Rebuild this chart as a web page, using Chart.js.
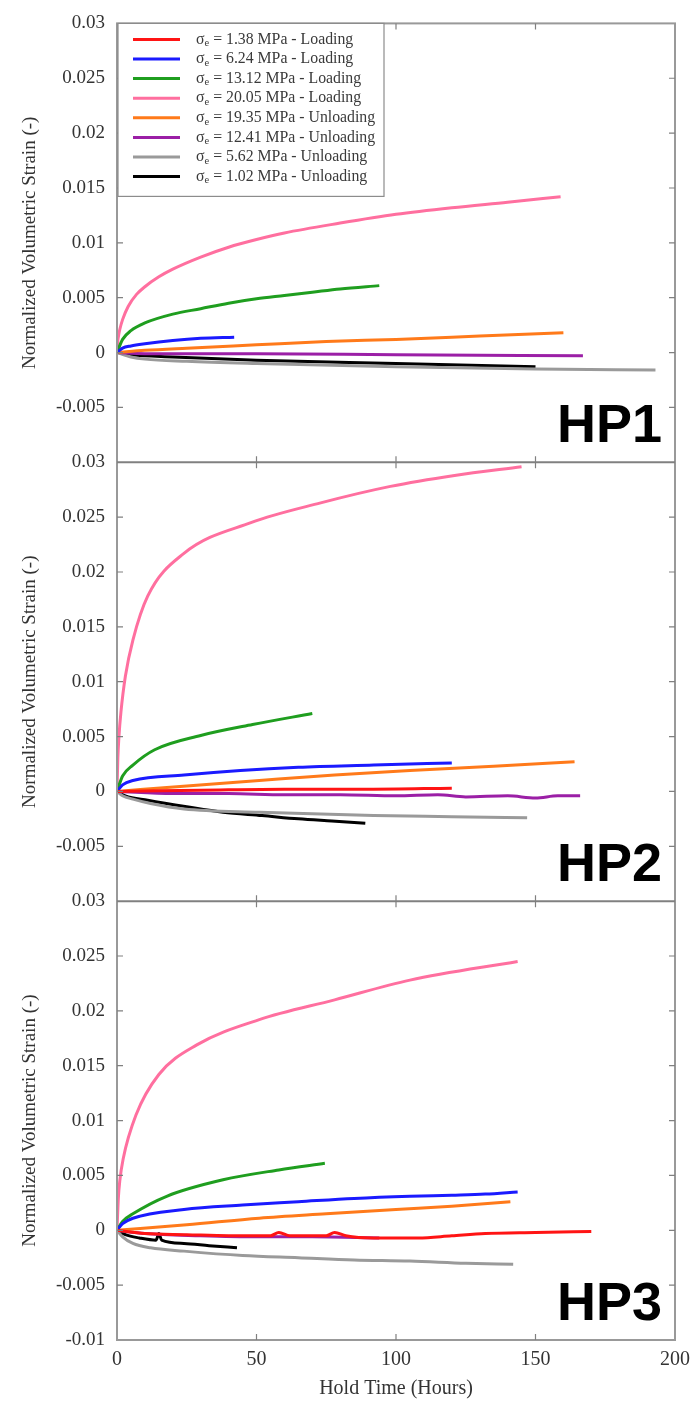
<!DOCTYPE html>
<html>
<head>
<meta charset="utf-8">
<title>Normalized volumetric strain vs hold time</title>
<script src="https://cdn.jsdelivr.net/npm/chart.js@4.4.0/dist/chart.umd.min.js"></script>
<style>
  html, body { margin: 0; padding: 0; background: #fff; }
  #wrap { position: relative; width: 698px; height: 1403px; }
</style>
</head>
<body>
<div id="wrap"><canvas id="strainChart"></canvas></div>
<script>
// ----------------------------
// 1. Data
// ----------------------------
const panelNames = ['HP1', 'HP2', 'HP3'];
const stressLevels = ['1.38', '6.24', '13.12', '20.05', '19.35', '12.41', '5.62', '1.02'];
const stages = ['Loading', 'Loading', 'Loading', 'Loading', 'Unloading', 'Unloading', 'Unloading', 'Unloading'];
const lineColors = ['#ff1414', '#1a1aff', '#1f9e1f', '#ff6f9f', '#ff7a1a', '#9b1fa6', '#9a9a9a', '#000000'];
const xTicks = [0, 50, 100, 150, 200];
const yTicks = [-0.01, -0.005, 0, 0.005, 0.01, 0.015, 0.02, 0.025, 0.03];

// HP1
const hp1RedT = [];
const hp1RedV = [];
const hp1BlueT = [0, 2, 5, 10, 20, 30, 42];
const hp1BlueV = [0, 0.0004, 0.0006, 0.0008, 0.0011, 0.0013, 0.0014];
const hp1GreenT = [0, 2, 5, 10, 20, 30, 40, 50, 60, 70, 80, 94];
const hp1GreenV = [0, 0.0012, 0.002, 0.0027, 0.0035, 0.004, 0.0045, 0.0049, 0.0052, 0.0055, 0.0058, 0.0061];
const hp1PinkT = [0, 0.3, 0.6, 1, 2, 4, 7, 10, 15, 20, 30, 40, 50, 60, 80, 100, 120, 140, 159];
const hp1PinkV = [0, 0.0011, 0.0016, 0.0021, 0.003, 0.0042, 0.0053, 0.006, 0.0069, 0.0076, 0.0087, 0.0096, 0.0103, 0.0109, 0.0118, 0.0126, 0.0132, 0.0137, 0.0142];
const hp1OrangeT = [0, 10, 25, 50, 75, 100, 130, 160];
const hp1OrangeV = [0, 0.0002, 0.0004, 0.0007, 0.001, 0.0012, 0.0015, 0.0018];
const hp1PurpleT = [0, 10, 50, 100, 167];
const hp1PurpleV = [0, -0.0001, -0.0001, -0.0002, -0.0003];
const hp1GrayT = [0, 5, 10, 25, 50, 100, 150, 193];
const hp1GrayV = [0, -0.0004, -0.0006, -0.0008, -0.001, -0.0013, -0.0015, -0.0016];
const hp1BlackT = [0, 5, 20, 50, 100, 150];
const hp1BlackV = [0, -0.0002, -0.0004, -0.0007, -0.001, -0.0013];

// HP2
const hp2RedT = [0, 30, 60, 90, 120];
const hp2RedV = [0, 0.0001, 0.0002, 0.0002, 0.0003];
const hp2BlueT = [0, 2, 5.7, 24, 65, 92, 120];
const hp2BlueV = [0, 0.0006, 0.001, 0.0015, 0.0022, 0.0024, 0.0026];
const hp2GreenT = [0, 2, 5.7, 13.5, 30, 48.6, 70];
const hp2GreenV = [0, 0.0014, 0.0024, 0.0038, 0.0051, 0.0061, 0.0071];
const hp2PinkT = [0, 0.3, 0.7, 1.4, 3, 5.7, 11, 24, 48, 73, 98, 121, 145];
const hp2PinkV = [0, 0.003, 0.005, 0.0072, 0.0105, 0.0138, 0.0178, 0.0217, 0.0245, 0.0263, 0.0278, 0.0288, 0.0296];
const hp2OrangeT = [0, 25, 51, 78, 105, 135, 164];
const hp2OrangeV = [0, 0.0005, 0.001, 0.0015, 0.0019, 0.0023, 0.0027];
const hp2PurpleT = [0, 20, 40, 60, 80, 100, 115, 125, 140, 150, 158, 166];
const hp2PurpleV = [0, -0.0002, -0.0002, -0.0003, -0.0003, -0.0004, -0.0003, -0.0005, -0.0004, -0.0006, -0.0004, -0.0004];
const hp2GrayT = [0, 2, 5.7, 12, 24, 51, 92, 120, 147];
const hp2GrayV = [0, -0.0004, -0.0007, -0.0011, -0.0016, -0.0019, -0.0022, -0.0023, -0.0024];
const hp2BlackT = [0, 3, 11, 25, 38, 52, 65, 77, 89];
const hp2BlackV = [0, -0.0004, -0.0008, -0.0014, -0.0019, -0.0022, -0.0025, -0.0027, -0.0029];

// HP3
const hp3RedT = [0, 10, 25, 40, 55, 58, 62, 75, 78, 82, 92, 108, 120, 132, 150, 170];
const hp3RedV = [0, -0.0003, -0.0004, -0.0005, -0.0005, -0.0002, -0.0005, -0.0005, -0.0002, -0.0005, -0.0007, -0.0007, -0.0005, -0.0003, -0.0002, -0.0001];
const hp3BlueT = [0, 2, 5.7, 24, 45, 65, 85, 105, 120, 132, 143.6];
const hp3BlueV = [0, 0.0006, 0.0011, 0.0019, 0.0023, 0.0026, 0.0029, 0.0031, 0.0032, 0.0033, 0.0035];
const hp3GreenT = [0, 2, 5.7, 17.8, 38, 58, 74.5];
const hp3GreenV = [0, 0.0008, 0.0015, 0.0031, 0.0046, 0.0055, 0.0061];
const hp3PinkT = [0, 0.5, 1, 2.2, 6.8, 15, 28.6, 51, 78, 105, 143.6];
const hp3PinkV = [0, 0.003, 0.0045, 0.0065, 0.0105, 0.0142, 0.0169, 0.0192, 0.021, 0.0228, 0.0245];
const hp3OrangeT = [0, 25, 51, 75, 100, 120, 141];
const hp3OrangeV = [0, 0.0005, 0.0011, 0.0015, 0.0019, 0.0022, 0.0026];
const hp3PurpleT = [0, 10, 30, 50, 70, 94];
const hp3PurpleV = [0, -0.0003, -0.0005, -0.0006, -0.0006, -0.0007];
const hp3GrayT = [0, 2, 5.7, 12, 24, 45, 65, 85, 105, 125, 142];
const hp3GrayV = [0, -0.0006, -0.0012, -0.0016, -0.0019, -0.0023, -0.0025, -0.0027, -0.0028, -0.003, -0.0031];
const hp3BlackT = [0, 3, 8, 14, 15, 16, 24, 33, 43];
const hp3BlackV = [0, -0.0004, -0.0007, -0.0009, -0.0003, -0.0009, -0.0012, -0.0014, -0.0016];

const panelSeries = [
    [[hp1RedT, hp1RedV], [hp1BlueT, hp1BlueV], [hp1GreenT, hp1GreenV], [hp1PinkT, hp1PinkV],
     [hp1OrangeT, hp1OrangeV], [hp1PurpleT, hp1PurpleV], [hp1GrayT, hp1GrayV], [hp1BlackT, hp1BlackV]],
    [[hp2RedT, hp2RedV], [hp2BlueT, hp2BlueV], [hp2GreenT, hp2GreenV], [hp2PinkT, hp2PinkV],
     [hp2OrangeT, hp2OrangeV], [hp2PurpleT, hp2PurpleV], [hp2GrayT, hp2GrayV], [hp2BlackT, hp2BlackV]],
    [[hp3RedT, hp3RedV], [hp3BlueT, hp3BlueV], [hp3GreenT, hp3GreenV], [hp3PinkT, hp3PinkV],
     [hp3OrangeT, hp3OrangeV], [hp3PurpleT, hp3PurpleV], [hp3GrayT, hp3GrayV], [hp3BlackT, hp3BlackV]]
];
const panelAxes = ['y1', 'y2', 'y3'];

// ----------------------------
// 2. Build datasets
// ----------------------------
const datasets = [];
panelSeries.forEach((series, p) => {
    series.forEach(([t, v], i) => {
        datasets.push({
            label: `σₑ = ${stressLevels[i]} MPa - ${stages[i]}`,
            data: t.map((x, k) => ({ x: x, y: v[k] })),
            yAxisID: panelAxes[p],
            borderColor: lineColors[i],
            backgroundColor: lineColors[i],
            borderWidth: 3,
            pointRadius: 0,
            fill: false,
            cubicInterpolationMode: 'monotone'
        });
    });
});

const serif = "'Liberation Serif', 'Times New Roman', serif";
const axisColor = '#999999';
const labelColor = '#333333';

function fmtTick(v) {
    return String(Math.round(v * 1000) / 1000);
}

function yScale(id, showBottom) {
    return {
        type: 'linear',
        position: 'left',
        stack: 'panels',
        stackWeight: 1,
        min: -0.01,
        max: 0.03,
        afterBuildTicks: s => { s.ticks = yTicks.map(v => ({ value: v })); },
        afterFit: s => { s.width = 117; },
        grid: { display: false, drawTicks: false },
        border: { display: false },
        ticks: {
            padding: 12,
            color: labelColor,
            font: { family: serif, size: 19 },
            callback: v => (!showBottom && Math.abs(v + 0.01) < 1e-9) ? '' : fmtTick(v)
        },
        title: {
            display: true,
            text: 'Normalized Volumetric Strain (-)',
            color: labelColor,
            font: { family: serif, size: 19 },
            padding: { top: 19, bottom: 0 }
        }
    };
}

// ----------------------------
// 3. Frame, panel labels and legend
// ----------------------------
const framePlugin = {
    id: 'frame',
    afterDraw(chart) {
        const ctx = chart.ctx;
        const area = chart.chartArea;
        const xs = chart.scales.x;
        ctx.save();
        ctx.strokeStyle = axisColor;
        ctx.lineWidth = 2;
        ctx.strokeRect(area.left, area.top, area.right - area.left, area.bottom - area.top);

        panelAxes.forEach((id, p) => {
            const ys = chart.scales[id];
            ctx.strokeStyle = p > 0 ? '#808080' : axisColor;
            ctx.lineWidth = 2;
            if (p > 0) {
                ctx.beginPath();
                ctx.moveTo(area.left, ys.top);
                ctx.lineTo(area.right, ys.top);
                ctx.stroke();
            }
            ctx.strokeStyle = '#808080';
            ctx.lineWidth = 1.2;
            ctx.beginPath();
            yTicks.forEach(v => {
                if (v === -0.01 || v === 0.03) return;
                const py = ys.getPixelForValue(v);
                ctx.moveTo(area.left, py); ctx.lineTo(area.left + 6, py);
                ctx.moveTo(area.right, py); ctx.lineTo(area.right - 6, py);
            });
            xTicks.forEach(v => {
                if (v === 0 || v === 200) return;
                const px = xs.getPixelForValue(v);
                ctx.moveTo(px, ys.top); ctx.lineTo(px, ys.top + 6);
                ctx.moveTo(px, ys.bottom); ctx.lineTo(px, ys.bottom - 6);
            });
            ctx.stroke();

            // panel name
            ctx.fillStyle = '#000';
            ctx.font = "bold 54px 'Liberation Sans', Arial, sans-serif";
            ctx.textAlign = 'right';
            ctx.textBaseline = 'alphabetic';
            ctx.fillText(panelNames[p], area.right - 13, ys.bottom - 20);
        });

        // legend box in the top panel
        const bx = area.left + 1, by = area.top, bw = 266, bh = 173;
        ctx.fillStyle = '#fff';
        ctx.fillRect(bx, by, bw, bh);
        ctx.strokeStyle = '#8c8c8c';
        ctx.lineWidth = 1.2;
        ctx.strokeRect(bx, by, bw, bh);
        stressLevels.forEach((s, i) => {
            const cy = by + 16 + i * 19.6;
            ctx.strokeStyle = lineColors[i];
            ctx.lineWidth = 3;
            ctx.beginPath();
            ctx.moveTo(bx + 15, cy);
            ctx.lineTo(bx + 62, cy);
            ctx.stroke();
            ctx.fillStyle = '#3a3a3a';
            ctx.textAlign = 'left';
            ctx.textBaseline = 'middle';
            let tx = bx + 78;
            ctx.font = `15.8px ${serif}`;
            ctx.fillText('σ', tx, cy);
            tx += ctx.measureText('σ').width;
            ctx.font = `10.5px ${serif}`;
            ctx.fillText('e', tx, cy + 4);
            tx += ctx.measureText('e').width;
            ctx.font = `15.8px ${serif}`;
            ctx.fillText(` = ${s} MPa - ${stages[i]}`, tx, cy);
        });
        ctx.restore();
    }
};

// ----------------------------
// 4. Chart
// ----------------------------
new Chart(document.getElementById('strainChart'), {
    type: 'line',
    data: { datasets: datasets },
    options: {
        responsive: true,
        maintainAspectRatio: false,
        animation: false,
        layout: { padding: { left: 0, right: 21, top: 19, bottom: 0 } },
        plugins: {
            legend: { display: false },
            tooltip: { enabled: false }
        },
        scales: {
            x: {
                type: 'linear',
                position: 'bottom',
                min: 0,
                max: 200,
                afterBuildTicks: s => { s.ticks = xTicks.map(v => ({ value: v })); },
                afterFit: s => { s.height = 63; },
                grid: { display: false, drawTicks: false },
                border: { display: false },
                ticks: {
                    padding: 8,
                    color: labelColor,
                    font: { family: serif, size: 20 }
                },
                title: {
                    display: true,
                    text: 'Hold Time (Hours)',
                    color: labelColor,
                    font: { family: serif, size: 20 },
                    padding: { top: 0, bottom: 2 }
                }
            },
            y3: yScale('y3', true),
            y2: yScale('y2', false),
            y1: yScale('y1', false)
        }
    },
    plugins: [framePlugin]
});
</script>
</body>
</html>
